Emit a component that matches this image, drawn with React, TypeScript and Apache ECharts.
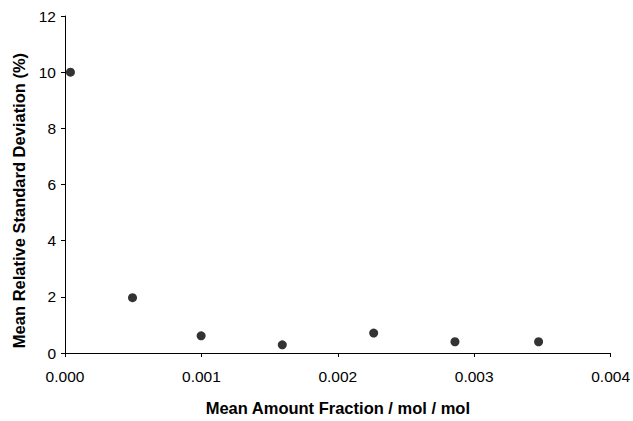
import React, { useEffect, useRef } from "react";
import * as echarts from "echarts";

const xValues = [0.00004, 0.000495, 0.000998, 0.001593, 0.002263, 0.002859, 0.003472];
const yValues = [10.0, 1.97, 0.61, 0.29, 0.71, 0.4, 0.4];
const xTitle = "Mean Amount Fraction / mol / mol";
const yTitle = "Mean Relative Standard Deviation (%)";

export default function App() {
  const ref = useRef<HTMLDivElement>(null);
  useEffect(() => {
    if (!ref.current) return;
    const chart = echarts.init(ref.current, undefined, { renderer: "svg" });
    const font = "'Liberation Sans', Arial, sans-serif";
    chart.setOption({
      animation: false,
      backgroundColor: "#fff",
      grid: { left: 65, right: 20, top: 16, bottom: 62, containLabel: false },
      xAxis: {
        type: "value",
        min: 0,
        max: 0.004,
        interval: 0.001,
        name: xTitle,
        nameLocation: "middle",
        nameGap: 46,
        nameTextStyle: { fontFamily: font, fontSize: 16.5, fontWeight: "bold", color: "#000" },
        axisLine: { lineStyle: { color: "#000", width: 1 } },
        axisTick: { show: true, length: 4, lineStyle: { color: "#000" } },
        axisLabel: { color: "#000", fontFamily: font, fontSize: 15.5, margin: 15, formatter: (v: number) => v.toFixed(3) },
        splitLine: { show: false },
      },
      yAxis: {
        type: "value",
        min: 0,
        max: 12,
        interval: 2,
        name: yTitle,
        nameLocation: "middle",
        nameGap: 38,
        nameTextStyle: { fontFamily: font, fontSize: 16.5, fontWeight: "bold", color: "#000", padding: [0, 32, 0, 0] },
        axisLine: { show: true, lineStyle: { color: "#000", width: 1 } },
        axisTick: { show: true, length: 4, lineStyle: { color: "#000" } },
        axisLabel: { color: "#000", fontFamily: font, fontSize: 15.5, margin: 9 },
        splitLine: { show: false },
      },
      series: [
        {
          type: "scatter",
          data: xValues.map((x, i) => [x, yValues[i]]),
          symbol: "circle",
          symbolSize: 9,
          itemStyle: { color: "#000" },
        },
      ],
    });
    return () => chart.dispose();
  }, []);
  return <div ref={ref} style={{ width: 633, height: 421, position: "absolute", left: 0, top: 0 }} />;
}
